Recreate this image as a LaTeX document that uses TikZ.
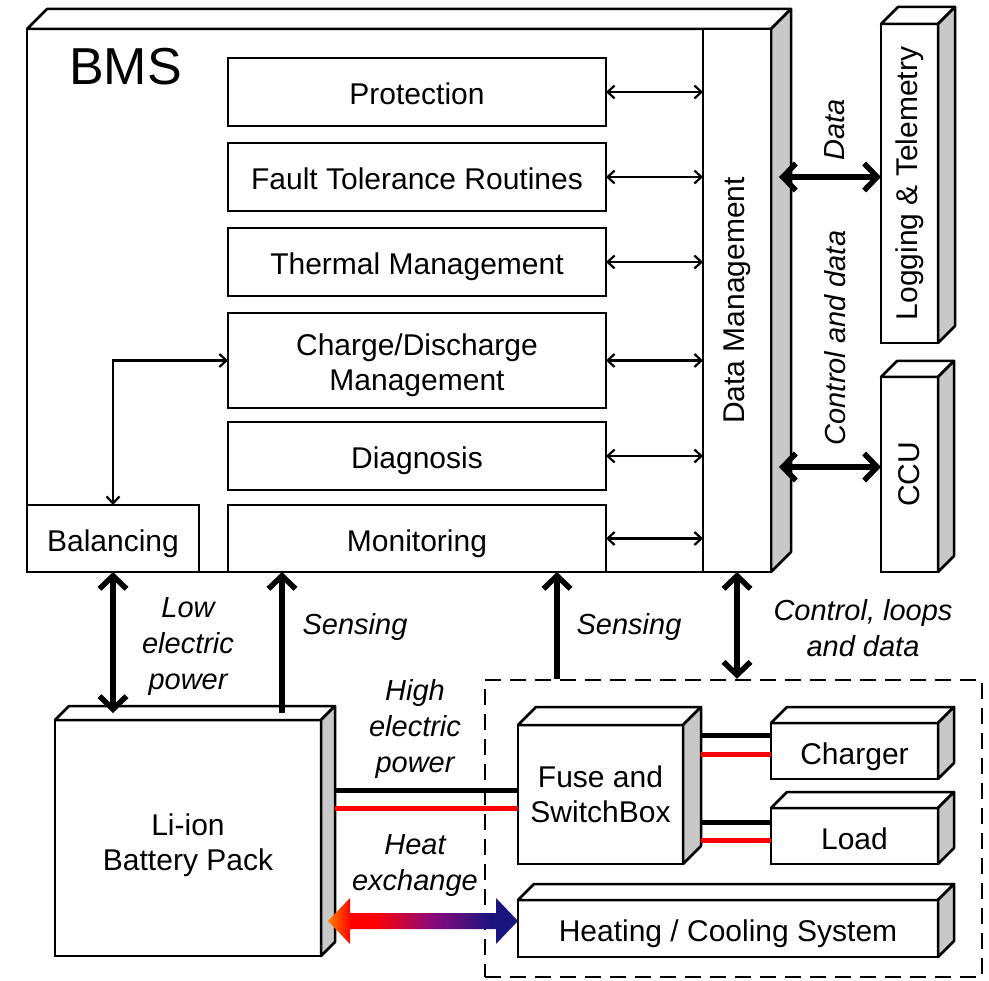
\documentclass[tikz,border=0pt]{standalone}
\usepackage{fontspec}
\setmainfont{Liberation Sans}
\usepackage{graphicx}
\usetikzlibrary{arrows.meta,calc}

\definecolor{sidegray}{HTML}{C8C8C8}
\definecolor{wirered}{HTML}{FF0000}
\definecolor{heatA}{HTML}{FF8000}
\definecolor{heatB}{HTML}{FF0000}
\definecolor{heatC}{HTML}{8E0A7A}
\definecolor{heatD}{HTML}{1A1480}

% left-to-right colour run of the heat exchange arrow
\pgfdeclarehorizontalshading{heatflow}{100bp}{%
  color(0bp)=(heatA); color(25bp)=(heatA); color(31bp)=(heatB);
  color(37bp)=(heatB); color(52bp)=(heatC); color(68bp)=(heatD);
  color(75bp)=(heatD); color(100bp)=(heatD)}

\newcommand\lblfont{\fontsize{30}{35}\selectfont}
\newcommand\notefont{\fontsize{29}{36}\selectfont\itshape}

% top face and shaded side face of a box drawn as a solid block
\newcommand\solid[2]{%
  \filldraw[fill=white, line width=2.5pt, line join=round]
    (#1.north west) -- ++(#2,-#2) -- ([shift={(#2,-#2)}]#1.north east)
    -- (#1.north east) -- cycle;
  \filldraw[fill=sidegray, line width=2.5pt, line join=round]
    (#1.north east) -- ++(#2,-#2) -- ([shift={(#2,-#2)}]#1.south east)
    -- (#1.south east) -- cycle;}

\begin{document}
\begin{tikzpicture}[x=1pt, y=-1pt,
  frame/.style={draw, line width=2.5pt, fill=white, inner sep=0pt,
    outer sep=0pt, align=center, font=\lblfont},
  box/.style={frame, text height=26pt, text depth=0pt},
  txt/.style={inner sep=0pt, align=center, font=\lblfont},
  note/.style={font=\notefont, align=center, inner sep=0pt},
  thinlink/.style={line width=2.2pt,
    {Straight Barb[length=7pt,width=13pt]}-{Straight Barb[length=7pt,width=13pt]}},
  bigtip/.tip={Straight Barb[length=13pt,width=27pt]},
  biglink/.style={line width=5.5pt, bigtip-bigtip},
  bigup/.style={line width=5.5pt, -bigtip},
  wireK/.style={line width=5pt, black},
  wireR/.style={line width=5pt, wirered}]

\useasboundingbox (0,0) rectangle (989,981);
\fill[white] (0,0) rectangle (989,981);

% ---------------- BMS block ----------------
\node[frame, minimum width=744pt, minimum height=543pt] (bms) at (399,300.5) {};
\solid{bms}{20}
\node[anchor=base west, inner sep=0pt, font=\fontsize{52}{60}\selectfont]
  (bmstitle) at (69,85) {BMS};

\node[box, minimum width=378pt, minimum height=68pt] (prot)  at (417,92)    {Protection};
\node[box, minimum width=378pt, minimum height=68pt] (fault) at (417,177)   {Fault Tolerance Routines};
\node[box, minimum width=378pt, minimum height=68pt] (therm) at (417,262)   {Thermal Management};
\node[frame, minimum width=378pt, minimum height=95pt] (chg) at (417,360.5) {};
\node[txt] (chgtext) at (417,365) {Charge/Discharge\\Management};
\node[box, minimum width=378pt, minimum height=68pt] (diag)  at (417,456)   {Diagnosis};
\node[box, minimum width=378pt, minimum height=67pt] (mon)   at (417,538.5) {Monitoring};
\node[box, minimum width=172pt, minimum height=67pt] (bal)   at (113,538.5) {Balancing};

\node[frame, minimum width=68pt, minimum height=543pt] (dm) at (737,300.5)
  {\rotatebox{90}{Data Management}};

\foreach \n in {prot,fault,therm,chg,diag,mon}
  \draw[thinlink] (\n.east) -- (\n.east -| dm.west);
\draw[thinlink] (bal.north) |- (chg.west);

% ---------------- external units ----------------
\node[frame, minimum width=57pt, minimum height=319pt] (log) at (909.5,183.5)
  {\rotatebox{90}{Logging \& Telemetry}};
\solid{log}{17}
\node[frame, minimum width=57pt, minimum height=195pt] (ccu) at (909.5,474.5)
  {\rotatebox{90}{CCU}};
\solid{ccu}{16}

\coordinate (dmside) at ([xshift=8pt]dm.east);
\draw[biglink] (dmside |- 0,177) -- (log.west |- 0,177);
\draw[biglink] (dmside |- 0,467) -- (ccu.west |- 0,467);
\node[note, rotate=90] (datalbl) at (835,130) {Data};
\node[note, rotate=90] (ctrllbl) at (835,338) {Control and data};

% ---------------- battery pack ----------------
\node[frame, minimum width=266pt, minimum height=236pt] (li) at (188,838) {};
\solid{li}{14}
\node[txt] (litext) at (188,845.5) {Li-ion\\Battery Pack};

% ---------------- power system (dashed group) ----------------
\node[draw, line width=2.5pt, dash pattern=on 16pt off 9pt, inner sep=0pt,
  minimum width=497pt, minimum height=297pt] (sys) at (733.5,828.5) {};

\node[frame, minimum width=165pt, minimum height=139pt] (fuse) at (600.5,794.5)
  {Fuse and\\SwitchBox};
\solid{fuse}{18}
\node[box, minimum width=167pt, minimum height=56pt] (charger) at (854.5,751) {Charger};
\solid{charger}{16}
\node[box, minimum width=167pt, minimum height=56pt] (load) at (854.5,836) {Load};
\solid{load}{16}
\node[box, minimum width=420pt, minimum height=57pt] (heat) at (728,928.5)
  {Heating / Cooling System};
\solid{heat}{16}

% power wires
\coordinate (liside) at ([xshift=14pt]li.east);
\coordinate (fuseside) at ([xshift=18pt]fuse.east);
\draw[wireK] (liside |- 0,790) -- (fuse.west |- 0,790);
\draw[wireR] (liside |- 0,808) -- (fuse.west |- 0,808);
\draw[wireK] (fuseside |- 0,735) -- (charger.west |- 0,735);
\draw[wireR] (fuseside |- 0,754) -- (charger.west |- 0,754);
\draw[wireK] (fuseside |- 0,822) -- (load.west |- 0,822);
\draw[wireR] (fuseside |- 0,840) -- (load.west |- 0,840);

% heat exchange arrow
\coordinate (hxL) at (328,921);
\coordinate (hxR) at (heat.west |- 0,921);
\shade[shading=heatflow]
  (hxL) -- ++(22,-23) -- ++(0,15) -- (496,913) -- (496,898) -- (hxR)
  -- (496,944) -- (496,929) -- (350,929) -- (350,944) -- cycle;

% ---------------- links between BMS and the plant ----------------
\coordinate (litop) at ([yshift=7pt]li.north);
\draw[biglink] (bal.south) -- (bal.south |- litop);
\draw[bigup] (litop -| 282,0) -- (bms.south -| 282,0);
\draw[bigup] (sys.north -| 557,0) -- (bms.south -| 557,0);
\draw[biglink] (dm.south) -- (dm.south |- sys.north);

% ---------------- link labels ----------------
\node[note] (lowlbl)  at (188,647) {Low\\electric\\power};
\node[note] (sens1)   at (355,627) {Sensing};
\node[note] (sens2)   at (629,627) {Sensing};
\node[note] (ctlloop) at (863,628) {Control, loops\\and data};
\node[note] (highlbl) at (415,729) {High\\electric\\power};
\node[note] (heatlbl) at (415,866) {Heat\\exchange};

\end{tikzpicture}
\end{document}
